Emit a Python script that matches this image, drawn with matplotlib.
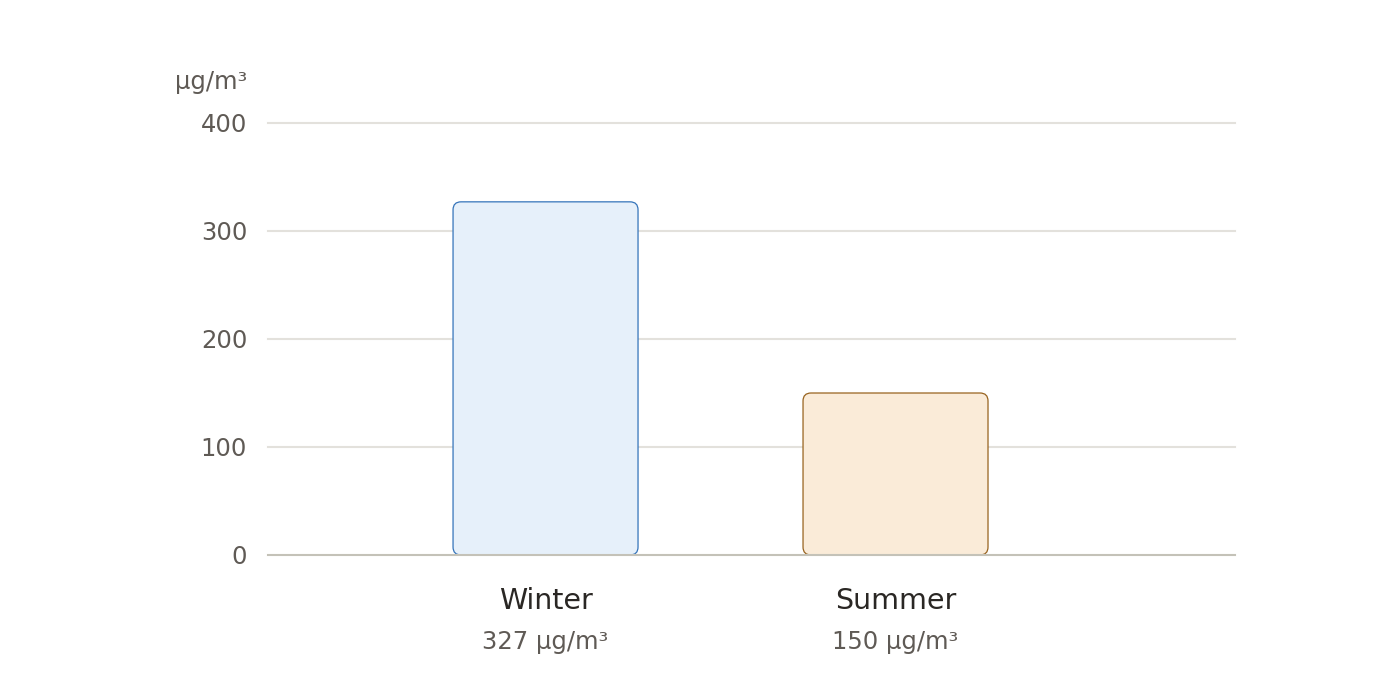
import matplotlib
matplotlib.use("Agg")
import matplotlib.pyplot as plt
from matplotlib.patches import FancyBboxPatch
from matplotlib.transforms import blended_transform_factory

categories = ["Winter", "Summer"]
values = [327, 150]
value_labels = ["327 µg/m³", "150 µg/m³"]
fills = ["#E6F0FA", "#FAEBD8"]
edges = ["#3574BA", "#98631F"]
yticks = [0, 100, 200, 300, 400]
unit = "µg/m³"

plt.rcParams['font.family'] = ['DejaVu Sans']
fig = plt.figure(figsize=(14, 7), dpi=100)
ax = fig.add_axes([268/1400, 1-555/700, (1235-268)/1400, (555-123)/700])
ax.set_xlim(-0.793, 1.97)
ax.set_ylim(0, 400)

for y in yticks[1:]:
    ax.axhline(y, color="#E3E1DC", lw=1.5, zorder=0, clip_on=False)
ax.axhline(0, color="#C4C2B8", lw=1.5, zorder=3, clip_on=False)

width = 185/350
xunit_px = 350.0
yunit_px = 432/400
r = 8/xunit_px
aspect = xunit_px/yunit_px
for i, (v, fc, ec) in enumerate(zip(values, fills, edges)):
    p = FancyBboxPatch((i - width/2, 0), width, v,
                       boxstyle=f"round,pad=0,rounding_size={r}",
                       mutation_aspect=aspect,
                       facecolor=fc, edgecolor=ec, lw=0.9, zorder=2)
    ax.add_patch(p)

for s in ax.spines.values():
    s.set_visible(False)
ax.set_xticks([])
ax.set_yticks(yticks)
ax.set_yticklabels([str(t) for t in yticks])
ax.tick_params(axis='y', length=0, pad=15, labelsize=17.5, labelcolor="#5F5A55")

tr = blended_transform_factory(ax.transData, ax.transAxes)
for i, (c, vl) in enumerate(zip(categories, value_labels)):
    ax.text(i, -0.1065, c, transform=tr, ha="center", va="center",
            fontsize=20.5, color="#2A2724")
    ax.text(i, -0.2014, vl, transform=tr, ha="center", va="center",
            fontsize=17.5, color="#5F5A55")

ax.text(-0.0217, 1.0949, unit, transform=ax.transAxes, ha="right", va="center",
        fontsize=17.5, color="#5F5A55")

fig.savefig("out.png", dpi=100)
